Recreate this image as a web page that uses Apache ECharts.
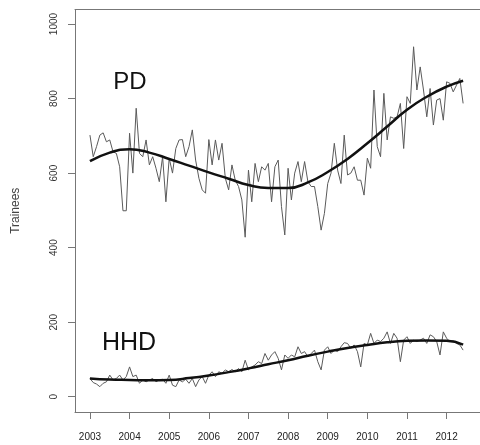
<!DOCTYPE html>
<html>
<head>
<meta charset="utf-8">
<script src="https://cdn.jsdelivr.net/npm/echarts@6/dist/echarts.min.js"></script>
<style>html,body{margin:0;padding:0;background:#fff;overflow:hidden}#c{width:480px;height:445px}</style>
</head>
<body>
<div id="c"></div>
<script>
const startYear = 2003;
const yearTicks = [2003,2004,2005,2006,2007,2008,2009,2010,2011,2012];
const yTicks = [0,200,400,600,800,1000];

const pdMonthly = [
 702,644,671,702,708,684,689,657,653,617,499,499,
 707,600,774,653,644,689,622,644,613,577,644,523,
 640,600,666,689,690,644,671,716,635,586,555,546,
 690,622,689,635,680,586,555,622,581,564,528,428,
 608,523,626,577,617,608,626,523,617,635,510,434,
 613,528,600,631,577,631,577,564,564,510,447,492,
 572,600,680,608,572,702,595,600,617,581,581,541,
 640,613,823,671,644,814,689,751,747,751,787,666,
 805,787,939,823,885,823,751,827,729,796,800,742,
 845,841,818,836,854,787
];
const hhdMonthly = [
 49,38,34,27,36,40,58,45,49,58,45,54,
 80,54,58,36,45,40,45,49,40,45,47,36,
 58,31,27,45,40,47,36,49,27,45,54,36,
 58,67,54,67,63,72,67,73,67,76,67,98,
 72,80,85,94,89,116,98,112,121,103,72,112,
 103,112,107,134,116,121,107,116,125,94,72,125,
 134,116,125,121,134,145,143,130,139,121,80,143,
 139,170,143,152,148,157,174,143,170,157,94,152,
 161,143,152,148,152,157,143,166,161,148,112,174,
 157,148,150,143,139,125
];
const trendTimes = [2003,2003.5,2004,2004.5,2005,2005.5,2006,2006.5,2007,2007.5,2008,2008.5,2009,2009.5,2010,2010.5,2011,2011.5,2012,2012.417];
const pdTrend  = [632,655,664,655,638,620,602,585,568,560,560,575,603,638,680,725,770,805,832,848];
const hhdTrend = [49,46,45,44,45,50,57,66,76,87,98,110,121,131,139,146,150,151,150,140];

const monthly = arr => arr.map((v,i) => [startYear + i/12, v]);
const trend = arr => arr.map((v,i) => [trendTimes[i], v]);

const chart = echarts.init(document.getElementById('c'));
const font = '"Liberation Sans", Arial, sans-serif';
const boxLine = { show: true, onZero: false, lineStyle: { color: '#777', width: 1 } };
chart.setOption({
  animation: false,
  grid: { left: 75, top: 9.5, right: -6, bottom: 33, show: false, outerBoundsMode: 'none', containLabel: false },
  xAxis: [{
    type: 'value', min: 2002.623, max: 2012.994,
    splitLine: { show: false },
    axisLine: boxLine,
    axisTick: { show: true, length: 7, lineStyle: { color: '#777' }, customValues: yearTicks },
    axisLabel: { customValues: yearTicks, fontFamily: font, fontSize: 10, color: '#222', margin: 20, formatter: v => String(Math.round(v)) }
  }, {
    type: 'value', position: 'top', min: 2002.623, max: 2012.994,
    splitLine: { show: false }, axisLine: boxLine, axisTick: { show: false }, axisLabel: { show: false }
  }],
  yAxis: {
    type: 'value', min: -41, max: 1039,
    name: 'Trainees', nameLocation: 'middle', nameGap: 53, nameRotate: 90,
    nameTextStyle: { fontFamily: font, fontSize: 12, color: '#444' },
    splitLine: { show: false },
    axisLine: boxLine,
    axisTick: { show: true, length: 7, lineStyle: { color: '#777' }, customValues: yTicks },
    axisLabel: { customValues: yTicks, rotate: 90, fontFamily: font, fontSize: 10, color: '#333', margin: 16, formatter: v => String(Math.round(v)) }
  },
  series: [
    { type: 'line', data: monthly(pdMonthly), showSymbol: false, lineStyle: { color: '#5a5a5a', width: 1 }, z: 2 },
    { type: 'line', data: trend(pdTrend), smooth: 0.5, showSymbol: false, lineStyle: { color: '#111', width: 2.5 }, z: 3 },
    { type: 'line', data: monthly(hhdMonthly), showSymbol: false, lineStyle: { color: '#5a5a5a', width: 1 }, z: 2 },
    { type: 'line', data: trend(hhdTrend), smooth: 0.5, showSymbol: false, lineStyle: { color: '#111', width: 2.5 }, z: 3 }
  ],
  graphic: [
    { type: 'text', x: 130, y: 82, style: { text: 'PD', font: '24px ' + font, fill: '#111', align: 'center', verticalAlign: 'middle' } },
    { type: 'text', x: 129, y: 343, style: { text: 'HHD', font: '25px ' + font, fill: '#111', align: 'center', verticalAlign: 'middle' } }
  ]
});
</script>
</body>
</html>
